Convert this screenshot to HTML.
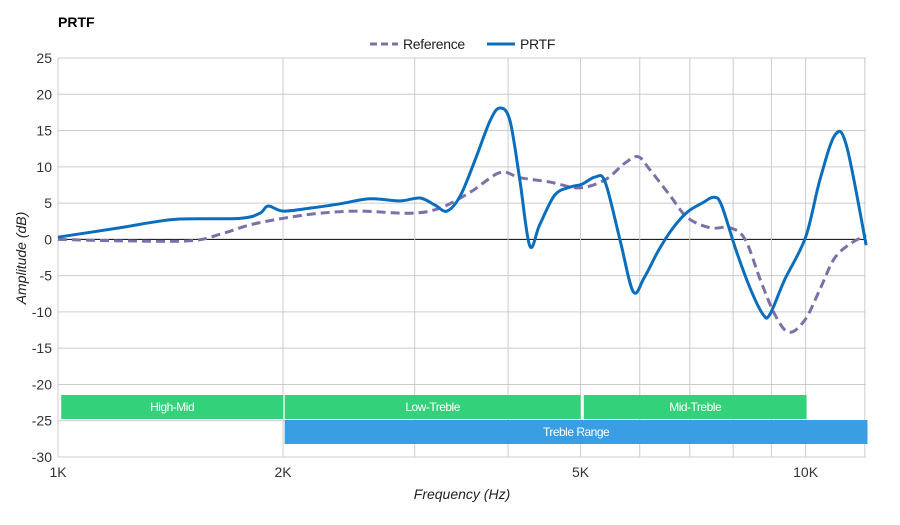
<!DOCTYPE html>
<html><head><meta charset="utf-8"><style>
body{margin:0;background:#fff;font-family:"Liberation Sans",sans-serif;}
svg text{font-family:"Liberation Sans",sans-serif;}
</style></head><body>
<svg id="c" width="900" height="520" xmlns="http://www.w3.org/2000/svg">
<rect width="900" height="520" fill="#fff"/>
<text x="58" y="27" font-size="14" font-weight="bold" fill="#000">PRTF</text>
<g>
<line x1="370" y1="44" x2="398" y2="44" stroke="#7b71a8" stroke-width="3" stroke-dasharray="7,4"/>
<text x="403" y="49" font-size="14" fill="#222" letter-spacing="-0.3">Reference</text>
<line x1="487" y1="44" x2="515" y2="44" stroke="#0a6ebd" stroke-width="3"/>
<text x="520" y="49" font-size="14" fill="#222" letter-spacing="-0.3">PRTF</text>
</g>
<g id="grid"></g><g id="bands"></g><g id="series"></g><g id="labels"></g>
<text x="462" y="499" font-size="14" font-style="italic" text-anchor="middle" fill="#222">Frequency (Hz)</text>
<text transform="translate(26,258) rotate(-90)" font-size="14" font-style="italic" text-anchor="middle" fill="#222">Amplitude (dB)</text>
</svg>
<script>
const yTicks=[25,20,15,10,5,0,-5,-10,-15,-20,-25,-30];
const xGrid=[1000,2000,3000,4000,5000,6000,7000,8000,9000,10000,12000];
const xLabelFreqs=[1000,2000,5000,10000];
const xLabelText=["1K","2K","5K","10K"];
const bandNames=["High-Mid","Low-Treble","Mid-Treble","Treble Range"];
const bandStart=[1010,2010,5050,2010];
const bandEnd=[2000,5000,10030,12100];
const refFreq=[1000,1210,1500,1647,1807,2000,2240,2530,2960,3240,3560,3900,4150,4550,4980,5390,5730,5970,6190,6580,6950,7450,7920,8300,8700,9100,9500,9980,10450,10900,11400,12050];
const refVal=[0,-0.2,-0.2,0.7,2.0,2.9,3.6,3.9,3.6,4.3,6.5,9.2,8.5,7.9,7.1,8.2,10.5,11.4,9.6,6.1,3.0,1.6,1.6,0,-5.6,-10.4,-12.8,-11.1,-6.9,-2.8,-0.8,0.6];
const prtfFreq=[1000,1210,1327,1456,1751,1862,1910,2000,2173,2384,2614,2867,3050,3196,3315,3452,3612,3786,3901,4022,4147,4276,4408,4618,4838,5021,5231,5394,5647,5880,6082,6359,6650,6954,7271,7536,7719,8072,8442,8778,8963,9372,10000,10450,10950,11350,12050];
const prtfVal=[0.3,1.6,2.3,2.8,2.9,3.6,4.6,3.9,4.3,4.9,5.6,5.3,5.7,4.7,3.9,6.0,10.9,16.4,18.1,16.4,8.2,-0.9,2.0,6.1,7.2,7.6,8.6,7.9,-0.1,-7.2,-5.3,-1.5,1.6,3.8,5.0,5.8,4.7,-1.5,-6.9,-10.4,-10.3,-5.6,0.3,8.2,14.4,12.8,-0.8];
const X0=58,X1=866,Y0=58,Y1=457,DEC=747.6;
const xs=f=>X0+Math.log10(f/1000)*DEC;
const ys=v=>Y0+(25-v)*(Y1-Y0)/55;
const NS="http://www.w3.org/2000/svg";
function mk(t,p,a){const e=document.createElementNS(NS,t);for(const k in a)e.setAttribute(k,a[k]);p.appendChild(e);return e;}
const grid=document.getElementById('grid'),labels=document.getElementById('labels'),bands=document.getElementById('bands'),series=document.getElementById('series');
yTicks.forEach(v=>{
 const l=mk('line',grid,{x1:X0,x2:X1,y1:ys(v),y2:ys(v),stroke:v===0?'#000':'#ccc','stroke-width':1});
 
 
 const t=mk('text',labels,{x:52,y:ys(v)+5,'font-size':14,'text-anchor':'end',fill:'#333'});
 t.textContent=v;
 
 
});
xGrid.forEach(f=>{
 const l=mk('line',grid,{x1:xs(f),x2:xs(f),y1:Y0,y2:Y1,stroke:'#ccc','stroke-width':1});
 
 
});
mk('line',grid,{x1:X0,x2:X0,y1:Y0,y2:Y1,stroke:'#ccc'});
xLabelFreqs.forEach((f,i)=>{
 const t=mk('text',labels,{x:xs(f),y:477,'font-size':14,'text-anchor':'middle',fill:'#333'});
 t.textContent=xLabelText[i];
 
 
});
bandNames.forEach((n,i)=>{
 const row=i===3?1:0,y=395+row*25;
 const col=i===3?'#3a9ee4':'#33d17a';
 const r=mk('rect',bands,{x:xs(bandStart[i]),y:y,width:xs(bandEnd[i])-xs(bandStart[i]),height:24,fill:col});
 
 
 const t=mk('text',bands,{x:(xs(bandStart[i])+xs(bandEnd[i]))/2,y:y+16,'font-size':12,'text-anchor':'middle',fill:'#fff','letter-spacing':'-0.5'});
 t.textContent=n;
 
 
});
function path(F,V){
 const p=F.map((f,i)=>[xs(f),ys(V[i])]);
 let d='M'+p[0][0]+','+p[0][1];
 for(let i=0;i<p.length-1;i++){
  const a=p[Math.max(0,i-1)],b=p[i],c=p[i+1],e=p[Math.min(p.length-1,i+2)];
  const c1=[b[0]+(c[0]-a[0])/6,b[1]+(c[1]-a[1])/6],c2=[c[0]-(e[0]-b[0])/6,c[1]-(e[1]-b[1])/6];
  d+=' C'+c1+' '+c2+' '+c;
 }
 return d;
}
const r=mk('path',series,{d:path(refFreq,refVal),fill:'none',stroke:'#7b71a8','stroke-width':3,'stroke-dasharray':'9,5'});


const p=mk('path',series,{d:path(prtfFreq,prtfVal),fill:'none',stroke:'#0a6ebd','stroke-width':3});


</script>
</body></html>
